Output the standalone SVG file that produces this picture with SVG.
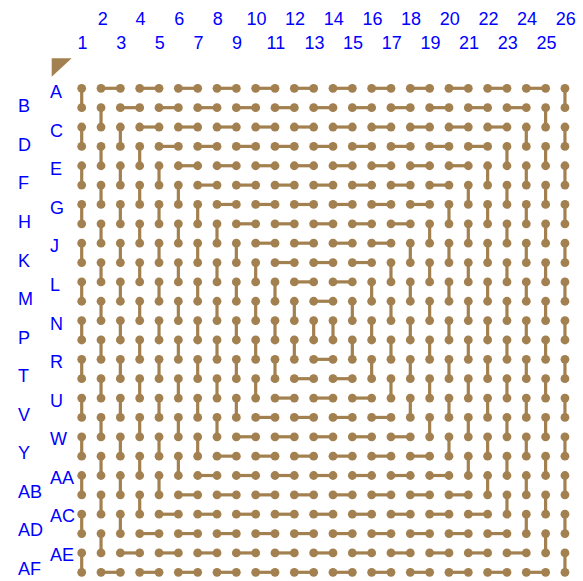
<svg xmlns="http://www.w3.org/2000/svg" width="583" height="581" viewBox="0 0 583 581">
<style>
.t{stroke:#a3804f;stroke-width:3.2}
.p{fill:#a3804f}
text{font-family:"Liberation Sans",Arial,sans-serif;font-size:18px;fill:#0000ff}
.c{text-anchor:middle}
</style>
<defs>
<g id="h1"><line class="t" x1="0" y1="0" x2="19.33" y2="0"/><circle class="p" cx="0" cy="0" r="4.4"/><circle class="p" cx="19.33" cy="0" r="4.4"/></g>
<g id="h2"><use href="#h1"/><use href="#h1" x="38.66"/></g>
<g id="h3"><use href="#h2"/><use href="#h1" x="77.32"/></g>
<g id="h4"><use href="#h3"/><use href="#h1" x="115.98"/></g>
<g id="h5"><use href="#h4"/><use href="#h1" x="154.64"/></g>
<g id="h6"><use href="#h5"/><use href="#h1" x="193.3"/></g>
<g id="h7"><use href="#h6"/><use href="#h1" x="231.96"/></g>
<g id="h8"><use href="#h7"/><use href="#h1" x="270.62"/></g>
<g id="h9"><use href="#h8"/><use href="#h1" x="309.28"/></g>
<g id="h10"><use href="#h9"/><use href="#h1" x="347.94"/></g>
<g id="h11"><use href="#h10"/><use href="#h1" x="386.6"/></g>
<g id="h12"><use href="#h11"/><use href="#h1" x="425.26"/></g>
<g id="v1"><line class="t" x1="0" y1="0" x2="0" y2="19.36"/><circle class="p" cx="0" cy="0" r="4.4"/><circle class="p" cx="0" cy="19.36" r="4.4"/></g>
<g id="v2"><use href="#v1"/><use href="#v1" y="38.72"/></g>
<g id="v3"><use href="#v2"/><use href="#v1" y="77.44"/></g>
<g id="v4"><use href="#v3"/><use href="#v1" y="116.16"/></g>
<g id="v5"><use href="#v4"/><use href="#v1" y="154.88"/></g>
<g id="v6"><use href="#v5"/><use href="#v1" y="193.6"/></g>
<g id="v7"><use href="#v6"/><use href="#v1" y="232.32"/></g>
<g id="v8"><use href="#v7"/><use href="#v1" y="271.04"/></g>
<g id="v9"><use href="#v8"/><use href="#v1" y="309.76"/></g>
<g id="v10"><use href="#v9"/><use href="#v1" y="348.48"/></g>
<g id="v11"><use href="#v10"/><use href="#v1" y="387.2"/></g>
<g id="v12"><use href="#v11"/><use href="#v1" y="425.92"/></g>
<g id="v13"><use href="#v12"/><use href="#v1" y="464.64"/></g>
</defs>
<g id="col-labels">
<text class="c" x="102.8" y="25">2</text>
<text class="c" x="140.5" y="25">4</text>
<text class="c" x="179.2" y="25">6</text>
<text class="c" x="217.8" y="25">8</text>
<text class="c" x="256.5" y="25">10</text>
<text class="c" x="295.1" y="25">12</text>
<text class="c" x="333.8" y="25">14</text>
<text class="c" x="372.5" y="25">16</text>
<text class="c" x="411.1" y="25">18</text>
<text class="c" x="449.8" y="25">20</text>
<text class="c" x="488.4" y="25">22</text>
<text class="c" x="527.1" y="25">24</text>
<text class="c" x="565.8" y="25">26</text>
<text class="c" x="82.5" y="49.3">1</text>
<text class="c" x="121.2" y="49.3">3</text>
<text class="c" x="159.8" y="49.3">5</text>
<text class="c" x="198.5" y="49.3">7</text>
<text class="c" x="237.1" y="49.3">9</text>
<text class="c" x="275.8" y="49.3">11</text>
<text class="c" x="314.5" y="49.3">13</text>
<text class="c" x="353.1" y="49.3">15</text>
<text class="c" x="391.8" y="49.3">17</text>
<text class="c" x="430.4" y="49.3">19</text>
<text class="c" x="469.1" y="49.3">21</text>
<text class="c" x="507.8" y="49.3">23</text>
<text class="c" x="546.4" y="49.3">25</text>
</g>
<g id="row-labels">
<text x="50" y="98.3">A</text>
<text x="50" y="136.8">C</text>
<text x="50" y="175.4">E</text>
<text x="50" y="213.9">G</text>
<text x="50" y="252.4">J</text>
<text x="50" y="291">L</text>
<text x="50" y="329.5">N</text>
<text x="50" y="368">R</text>
<text x="50" y="406.5">U</text>
<text x="50" y="445.1">W</text>
<text x="50" y="483.6">AA</text>
<text x="50" y="522.1">AC</text>
<text x="50" y="560.7">AE</text>
<text x="18" y="112.3">B</text>
<text x="18" y="150.9">D</text>
<text x="18" y="189.4">F</text>
<text x="18" y="228">H</text>
<text x="18" y="266.5">K</text>
<text x="18" y="305">M</text>
<text x="18" y="343.6">P</text>
<text x="18" y="382.2">T</text>
<text x="18" y="420.7">V</text>
<text x="18" y="459.3">Y</text>
<text x="18" y="497.8">AB</text>
<text x="18" y="536.4">AD</text>
<text x="18" y="574.9">AF</text>
</g>
<polygon id="pin1-marker" class="p" points="51.7,58.3 71.7,58.3 51.7,76.7"/>
<g id="connectors" transform="translate(81.7,88.3)">
<use href="#h12" x="19.33" y="0"/>
<use href="#h11" x="38.66" y="19.36"/>
<use href="#h10" x="57.99" y="38.72"/>
<use href="#h9" x="77.32" y="58.08"/>
<use href="#h8" x="96.65" y="77.44"/>
<use href="#h7" x="115.98" y="96.8"/>
<use href="#h6" x="135.31" y="116.16"/>
<use href="#h5" x="154.64" y="135.52"/>
<use href="#h4" x="173.97" y="154.88"/>
<use href="#h3" x="193.3" y="174.24"/>
<use href="#h2" x="212.63" y="193.6"/>
<use href="#h1" x="231.96" y="212.96"/>
<use href="#h12" x="19.33" y="484"/>
<use href="#h11" x="38.66" y="464.64"/>
<use href="#h10" x="57.99" y="445.28"/>
<use href="#h9" x="77.32" y="425.92"/>
<use href="#h8" x="96.65" y="406.56"/>
<use href="#h7" x="115.98" y="387.2"/>
<use href="#h6" x="135.31" y="367.84"/>
<use href="#h5" x="154.64" y="348.48"/>
<use href="#h4" x="173.97" y="329.12"/>
<use href="#h3" x="193.3" y="309.76"/>
<use href="#h2" x="212.63" y="290.4"/>
<use href="#h1" x="231.96" y="271.04"/>
<use href="#v13" x="0" y="0"/>
<use href="#v12" x="19.33" y="19.36"/>
<use href="#v11" x="38.66" y="38.72"/>
<use href="#v10" x="57.99" y="58.08"/>
<use href="#v9" x="77.32" y="77.44"/>
<use href="#v8" x="96.65" y="96.8"/>
<use href="#v7" x="115.98" y="116.16"/>
<use href="#v6" x="135.31" y="135.52"/>
<use href="#v5" x="154.64" y="154.88"/>
<use href="#v4" x="173.97" y="174.24"/>
<use href="#v3" x="193.3" y="193.6"/>
<use href="#v2" x="212.63" y="212.96"/>
<use href="#v1" x="231.96" y="232.32"/>
<use href="#v13" x="483.25" y="0"/>
<use href="#v12" x="463.92" y="19.36"/>
<use href="#v11" x="444.59" y="38.72"/>
<use href="#v10" x="425.26" y="58.08"/>
<use href="#v9" x="405.93" y="77.44"/>
<use href="#v8" x="386.6" y="96.8"/>
<use href="#v7" x="367.27" y="116.16"/>
<use href="#v6" x="347.94" y="135.52"/>
<use href="#v5" x="328.61" y="154.88"/>
<use href="#v4" x="309.28" y="174.24"/>
<use href="#v3" x="289.95" y="193.6"/>
<use href="#v2" x="270.62" y="212.96"/>
<use href="#v1" x="251.29" y="232.32"/>
</g>
</svg>
